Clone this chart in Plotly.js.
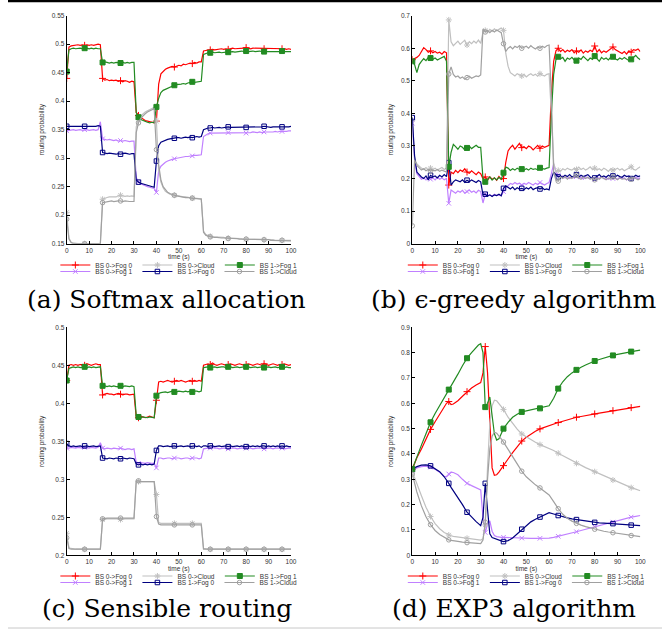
<!DOCTYPE html>
<html><head><meta charset="utf-8">
<script src="https://cdn.plot.ly/plotly-3.0.1.min.js"></script>
<style>html,body{margin:0;padding:0;background:#fff}#g{width:662px;height:638px}</style>
</head><body><div id="g"></div><script>
// sample times (s)
const TIME = [0,1,2,3,4,5,6,7,8,9,10,11,12,13,14,15,16,17,18,19,20,21,22,23,24,25,26,27,28,29,30,31,32,33,34,35,36,37,38,39,40,41,42,43,44,45,46,47,48,49,50,51,52,53,54,55,56,57,58,59,60,61,62,63,64,65,66,67,68,69,70,71,72,73,74,75,76,77,78,79,80,81,82,83,84,85,86,87,88,89,90,91,92,93,94,95,96,97,98,99,100];
const TIME_D = [0,2,4,6,8,10,12,14,15,16,17,18,20,22,24,26,28,29,30,31,32,33,34,35,36,37,38,39,40,42,44,46,48,50,52,54,56,58,60,62,64,66,68,70,72,74,76,78,80,82,84,86,88,90,92,94,96,98,100];
const MARK_T = [0,8,16,24,32,40,48,56,64,72,80,88,96];
const NAMES = ['BS 0->Fog 0','BS 0->Fog 1','BS 0->Cloud','BS 1->Fog 0','BS 1->Fog 1','BS 1->Cloud'];

// (a) Softmax allocation
const A_F00 = [0.440,0.495,0.497,0.498,0.498,0.499,0.498,0.499,0.498,0.499,
 0.498,0.499,0.498,0.499,0.500,0.499,0.440,0.437,0.438,0.436,
 0.437,0.436,0.437,0.435,0.436,0.434,0.436,0.435,0.433,0.435,
 0.434,0.380,0.375,0.372,0.369,0.366,0.365,0.364,0.363,0.362,
 0.365,0.430,0.448,0.452,0.456,0.458,0.459,0.461,0.460,0.462,
 0.463,0.462,0.465,0.464,0.466,0.467,0.466,0.468,0.467,0.469,
 0.469,0.488,0.489,0.490,0.490,0.491,0.490,0.491,0.491,0.492,
 0.491,0.492,0.491,0.492,0.493,0.492,0.492,0.493,0.492,0.493,
 0.494,0.493,0.492,0.493,0.493,0.492,0.493,0.493,0.492,0.493,
 0.493,0.492,0.493,0.492,0.492,0.493,0.492,0.492,0.491,0.492,
 0.491];
const A_F01 = [0.348,0.349,0.349,0.350,0.349,0.350,0.350,0.349,0.350,0.350,
 0.349,0.350,0.350,0.349,0.350,0.364,0.334,0.333,0.332,0.333,
 0.332,0.331,0.332,0.330,0.331,0.330,0.331,0.330,0.329,0.330,
 0.330,0.266,0.258,0.255,0.253,0.252,0.250,0.249,0.248,0.247,
 0.240,0.278,0.286,0.290,0.293,0.295,0.297,0.298,0.299,0.300,
 0.301,0.302,0.302,0.303,0.303,0.304,0.304,0.305,0.305,0.306,
 0.306,0.338,0.341,0.343,0.344,0.344,0.345,0.344,0.345,0.344,
 0.345,0.344,0.345,0.344,0.345,0.344,0.345,0.345,0.344,0.345,
 0.344,0.345,0.345,0.346,0.345,0.345,0.346,0.345,0.346,0.346,
 0.346,0.345,0.346,0.347,0.346,0.347,0.347,0.346,0.347,0.348,
 0.348];
const A_CL0 = [0.205,0.160,0.152,0.151,0.150,0.150,0.150,0.150,0.150,0.150,
 0.150,0.150,0.150,0.150,0.150,0.150,0.228,0.230,0.231,0.232,
 0.232,0.233,0.232,0.234,0.235,0.234,0.233,0.234,0.233,0.234,
 0.233,0.355,0.368,0.374,0.378,0.381,0.383,0.385,0.387,0.389,
 0.365,0.280,0.258,0.248,0.242,0.239,0.237,0.236,0.235,0.234,
 0.233,0.233,0.232,0.232,0.231,0.231,0.230,0.230,0.229,0.229,
 0.229,0.172,0.166,0.164,0.163,0.162,0.162,0.161,0.161,0.161,
 0.161,0.160,0.160,0.160,0.160,0.159,0.159,0.159,0.159,0.158,
 0.158,0.158,0.158,0.158,0.158,0.157,0.157,0.157,0.157,0.157,
 0.157,0.157,0.157,0.156,0.156,0.156,0.156,0.156,0.156,0.156,
 0.156];
const A_F10 = [0.356,0.356,0.355,0.356,0.355,0.356,0.355,0.356,0.356,0.355,
 0.356,0.355,0.356,0.356,0.357,0.356,0.310,0.309,0.308,0.309,
 0.308,0.308,0.307,0.308,0.307,0.308,0.309,0.308,0.307,0.308,
 0.308,0.262,0.258,0.256,0.255,0.254,0.252,0.251,0.250,0.249,
 0.295,0.322,0.328,0.330,0.332,0.333,0.334,0.335,0.335,0.336,
 0.336,0.335,0.336,0.337,0.336,0.337,0.336,0.337,0.338,0.337,
 0.338,0.350,0.352,0.353,0.353,0.354,0.353,0.354,0.354,0.353,
 0.354,0.354,0.355,0.354,0.354,0.355,0.354,0.355,0.354,0.355,
 0.354,0.355,0.354,0.355,0.355,0.354,0.355,0.355,0.356,0.355,
 0.355,0.354,0.355,0.355,0.354,0.355,0.355,0.354,0.355,0.355,
 0.356];
const A_F11 = [0.452,0.490,0.492,0.493,0.492,0.493,0.493,0.492,0.493,0.493,
 0.492,0.493,0.492,0.493,0.492,0.492,0.468,0.469,0.468,0.467,
 0.468,0.467,0.468,0.467,0.467,0.468,0.467,0.468,0.467,0.468,
 0.468,0.380,0.372,0.368,0.366,0.364,0.363,0.362,0.363,0.362,
 0.390,0.405,0.415,0.419,0.421,0.423,0.425,0.426,0.428,0.429,
 0.429,0.430,0.431,0.430,0.432,0.433,0.434,0.433,0.434,0.435,
 0.435,0.482,0.484,0.485,0.485,0.486,0.485,0.486,0.486,0.485,
 0.486,0.486,0.486,0.487,0.487,0.486,0.487,0.487,0.488,0.487,
 0.488,0.487,0.488,0.488,0.487,0.488,0.488,0.487,0.487,0.488,
 0.487,0.488,0.488,0.487,0.488,0.488,0.488,0.487,0.488,0.488,
 0.487];
const A_CL1 = [0.193,0.158,0.152,0.150,0.150,0.150,0.150,0.150,0.150,0.150,
 0.150,0.150,0.150,0.150,0.150,0.150,0.222,0.223,0.224,0.224,
 0.225,0.224,0.225,0.225,0.225,0.224,0.225,0.224,0.224,0.224,
 0.224,0.345,0.362,0.370,0.375,0.378,0.381,0.383,0.385,0.387,
 0.315,0.290,0.262,0.250,0.244,0.240,0.238,0.236,0.235,0.234,
 0.233,0.232,0.232,0.231,0.231,0.230,0.230,0.229,0.229,0.228,
 0.228,0.170,0.165,0.163,0.162,0.162,0.161,0.161,0.160,0.160,
 0.160,0.160,0.159,0.159,0.159,0.159,0.159,0.158,0.158,0.158,
 0.158,0.158,0.158,0.158,0.157,0.157,0.157,0.157,0.157,0.157,
 0.157,0.156,0.156,0.156,0.156,0.156,0.156,0.156,0.155,0.155,
 0.155];

// (b) epsilon-greedy algorithm
const B_F00 = [0.565,0.568,0.572,0.578,0.590,0.602,0.596,0.588,0.592,0.586,
 0.590,0.585,0.588,0.582,0.590,0.586,0.180,0.220,0.215,0.225,
 0.218,0.226,0.222,0.230,0.220,0.216,0.224,0.218,0.212,0.220,
 0.215,0.200,0.205,0.195,0.205,0.198,0.202,0.195,0.206,0.198,
 0.200,0.250,0.285,0.295,0.302,0.290,0.300,0.308,0.295,0.298,
 0.292,0.300,0.296,0.288,0.295,0.302,0.293,0.300,0.296,0.298,
 0.302,0.460,0.560,0.592,0.600,0.590,0.596,0.588,0.594,0.590,
 0.596,0.586,0.592,0.588,0.595,0.585,0.592,0.588,0.594,0.590,
 0.607,0.588,0.596,0.586,0.592,0.588,0.594,0.600,0.604,0.596,
 0.592,0.588,0.584,0.590,0.582,0.592,0.588,0.596,0.594,0.598,
 0.590];
const B_F01 = [0.370,0.260,0.215,0.205,0.198,0.202,0.196,0.204,0.198,0.202,
 0.196,0.204,0.198,0.202,0.196,0.200,0.124,0.165,0.160,0.155,
 0.162,0.158,0.164,0.155,0.160,0.165,0.158,0.162,0.156,0.164,
 0.160,0.125,0.152,0.148,0.150,0.146,0.152,0.148,0.150,0.147,
 0.160,0.172,0.178,0.185,0.182,0.188,0.183,0.186,0.180,0.185,
 0.182,0.188,0.184,0.180,0.186,0.182,0.188,0.184,0.180,0.185,
 0.188,0.215,0.245,0.222,0.210,0.205,0.208,0.202,0.206,0.200,
 0.204,0.202,0.206,0.200,0.204,0.198,0.206,0.202,0.200,0.204,
 0.198,0.204,0.200,0.206,0.200,0.202,0.198,0.204,0.200,0.202,
 0.198,0.204,0.200,0.202,0.196,0.202,0.200,0.198,0.204,0.200,
 0.202];
const B_CL0 = [0.380,0.262,0.245,0.238,0.232,0.228,0.234,0.226,0.232,0.228,
 0.232,0.226,0.230,0.234,0.228,0.232,0.687,0.620,0.608,0.615,
 0.622,0.612,0.618,0.625,0.610,0.620,0.614,0.622,0.616,0.625,
 0.615,0.650,0.655,0.648,0.658,0.652,0.660,0.654,0.658,0.662,
 0.655,0.584,0.545,0.525,0.520,0.515,0.522,0.518,0.515,0.520,
 0.512,0.518,0.522,0.516,0.520,0.514,0.522,0.518,0.515,0.520,
 0.522,0.400,0.250,0.220,0.225,0.222,0.230,0.226,0.232,0.228,
 0.226,0.232,0.228,0.235,0.228,0.232,0.226,0.230,0.236,0.228,
 0.232,0.226,0.230,0.225,0.232,0.228,0.222,0.230,0.226,0.228,
 0.232,0.226,0.230,0.224,0.228,0.232,0.236,0.228,0.226,0.232,
 0.236];
const B_F10 = [0.387,0.270,0.220,0.212,0.205,0.200,0.208,0.196,0.210,0.205,
 0.208,0.202,0.210,0.205,0.212,0.206,0.249,0.180,0.190,0.196,
 0.192,0.190,0.196,0.188,0.195,0.190,0.196,0.192,0.188,0.194,
 0.190,0.150,0.152,0.146,0.150,0.145,0.150,0.148,0.152,0.147,
 0.170,0.178,0.172,0.168,0.174,0.166,0.172,0.168,0.170,0.166,
 0.172,0.168,0.174,0.166,0.170,0.172,0.168,0.172,0.166,0.168,
 0.165,0.200,0.220,0.212,0.205,0.208,0.204,0.210,0.206,0.212,
 0.205,0.208,0.212,0.204,0.210,0.206,0.208,0.212,0.205,0.200,
 0.202,0.208,0.212,0.205,0.208,0.204,0.210,0.206,0.208,0.205,
 0.210,0.206,0.204,0.210,0.206,0.208,0.200,0.205,0.210,0.206,
 0.208];
const B_F11 = [0.560,0.550,0.525,0.550,0.560,0.568,0.562,0.572,0.570,0.566,
 0.570,0.564,0.568,0.572,0.575,0.560,0.236,0.280,0.305,0.298,
 0.290,0.300,0.296,0.288,0.294,0.300,0.292,0.298,0.302,0.296,
 0.296,0.200,0.190,0.198,0.205,0.195,0.202,0.196,0.204,0.198,
 0.218,0.235,0.232,0.225,0.230,0.226,0.232,0.228,0.229,0.226,
 0.230,0.226,0.232,0.228,0.230,0.227,0.233,0.231,0.229,0.232,
 0.234,0.400,0.520,0.565,0.574,0.568,0.572,0.560,0.570,0.566,
 0.572,0.564,0.562,0.570,0.566,0.575,0.568,0.562,0.570,0.566,
 0.576,0.568,0.560,0.572,0.566,0.570,0.564,0.572,0.574,0.568,
 0.564,0.570,0.566,0.572,0.568,0.562,0.566,0.572,0.578,0.570,
 0.565];
const B_CL1 = [0.055,0.257,0.240,0.232,0.226,0.230,0.224,0.228,0.222,0.226,
 0.224,0.228,0.222,0.226,0.224,0.220,0.521,0.543,0.520,0.512,
 0.515,0.508,0.512,0.505,0.510,0.514,0.508,0.512,0.515,0.513,
 0.518,0.659,0.650,0.655,0.648,0.655,0.650,0.656,0.652,0.648,
 0.614,0.590,0.600,0.605,0.598,0.606,0.602,0.608,0.600,0.604,
 0.606,0.600,0.608,0.602,0.598,0.604,0.600,0.606,0.602,0.608,
 0.610,0.450,0.220,0.195,0.192,0.205,0.200,0.206,0.198,0.204,
 0.200,0.206,0.210,0.202,0.198,0.205,0.200,0.204,0.198,0.202,
 0.196,0.202,0.198,0.204,0.200,0.196,0.202,0.198,0.205,0.200,
 0.196,0.202,0.198,0.200,0.196,0.202,0.198,0.204,0.200,0.196,
 0.200];

// (c) Sensible routing
const C_F00 = [0.430,0.450,0.451,0.450,0.451,0.450,0.451,0.451,0.450,0.452,
 0.451,0.450,0.451,0.452,0.451,0.451,0.411,0.412,0.413,0.412,
 0.412,0.411,0.412,0.413,0.412,0.411,0.412,0.412,0.411,0.412,
 0.412,0.382,0.381,0.383,0.382,0.381,0.382,0.383,0.382,0.381,
 0.404,0.428,0.429,0.428,0.429,0.430,0.429,0.428,0.429,0.430,
 0.429,0.430,0.429,0.428,0.429,0.430,0.429,0.430,0.429,0.430,
 0.429,0.450,0.451,0.452,0.451,0.453,0.451,0.450,0.451,0.452,
 0.451,0.450,0.451,0.452,0.451,0.450,0.451,0.452,0.451,0.450,
 0.451,0.452,0.451,0.450,0.451,0.452,0.451,0.450,0.452,0.451,
 0.450,0.451,0.452,0.451,0.450,0.451,0.451,0.452,0.451,0.450,
 0.451];
const C_F01 = [0.341,0.341,0.342,0.341,0.341,0.342,0.341,0.341,0.342,0.341,
 0.341,0.342,0.341,0.341,0.342,0.348,0.341,0.340,0.341,0.340,
 0.340,0.341,0.340,0.340,0.341,0.340,0.339,0.340,0.340,0.339,
 0.340,0.322,0.321,0.322,0.321,0.321,0.322,0.321,0.321,0.321,
 0.315,0.328,0.328,0.327,0.328,0.328,0.328,0.327,0.328,0.328,
 0.328,0.327,0.328,0.328,0.328,0.327,0.328,0.328,0.328,0.327,
 0.328,0.340,0.341,0.341,0.341,0.342,0.341,0.341,0.340,0.341,
 0.341,0.341,0.340,0.341,0.341,0.341,0.340,0.341,0.341,0.341,
 0.341,0.341,0.341,0.340,0.341,0.341,0.341,0.341,0.340,0.341,
 0.341,0.341,0.340,0.341,0.341,0.341,0.341,0.340,0.341,0.341,
 0.341];
const C_CL0 = [0.229,0.210,0.209,0.208,0.208,0.208,0.208,0.208,0.208,0.208,
 0.208,0.208,0.208,0.208,0.208,0.208,0.247,0.248,0.248,0.248,
 0.248,0.248,0.248,0.248,0.247,0.248,0.248,0.248,0.248,0.248,
 0.248,0.297,0.297,0.297,0.297,0.297,0.297,0.297,0.297,0.297,
 0.280,0.243,0.242,0.242,0.242,0.242,0.242,0.242,0.242,0.242,
 0.242,0.242,0.242,0.242,0.242,0.242,0.242,0.242,0.242,0.242,
 0.242,0.209,0.208,0.208,0.208,0.208,0.208,0.208,0.208,0.208,
 0.208,0.208,0.208,0.208,0.208,0.208,0.208,0.208,0.208,0.208,
 0.208,0.208,0.208,0.208,0.208,0.208,0.208,0.208,0.208,0.208,
 0.208,0.208,0.208,0.208,0.208,0.208,0.208,0.208,0.208,0.208,
 0.208];
const C_F10 = [0.347,0.344,0.343,0.344,0.343,0.344,0.344,0.343,0.344,0.344,
 0.343,0.344,0.344,0.343,0.344,0.344,0.328,0.327,0.327,0.328,
 0.327,0.327,0.328,0.327,0.327,0.328,0.327,0.327,0.328,0.327,
 0.327,0.320,0.319,0.320,0.319,0.320,0.319,0.320,0.319,0.320,
 0.338,0.344,0.344,0.343,0.344,0.344,0.343,0.344,0.344,0.343,
 0.344,0.344,0.343,0.344,0.344,0.343,0.344,0.344,0.343,0.344,
 0.342,0.344,0.344,0.343,0.344,0.344,0.343,0.344,0.344,0.343,
 0.344,0.344,0.343,0.344,0.343,0.344,0.344,0.343,0.344,0.343,
 0.343,0.344,0.343,0.344,0.343,0.344,0.343,0.344,0.344,0.343,
 0.344,0.343,0.344,0.343,0.344,0.343,0.344,0.343,0.344,0.343,
 0.343];
const C_F11 = [0.430,0.446,0.447,0.448,0.447,0.448,0.447,0.448,0.448,0.447,
 0.448,0.447,0.448,0.447,0.448,0.448,0.423,0.423,0.422,0.423,
 0.422,0.423,0.422,0.422,0.423,0.422,0.423,0.422,0.422,0.423,
 0.422,0.384,0.382,0.381,0.382,0.381,0.381,0.382,0.381,0.381,
 0.410,0.413,0.414,0.415,0.415,0.414,0.415,0.416,0.415,0.415,
 0.416,0.415,0.415,0.416,0.415,0.416,0.415,0.416,0.416,0.415,
 0.416,0.447,0.448,0.448,0.447,0.448,0.448,0.447,0.448,0.448,
 0.448,0.447,0.448,0.448,0.447,0.448,0.448,0.447,0.448,0.448,
 0.448,0.448,0.447,0.448,0.448,0.447,0.448,0.448,0.447,0.448,
 0.448,0.447,0.448,0.448,0.447,0.448,0.448,0.447,0.448,0.447,
 0.447];
const C_CL1 = [0.223,0.209,0.208,0.208,0.208,0.208,0.208,0.208,0.208,0.208,
 0.208,0.208,0.208,0.208,0.208,0.208,0.248,0.249,0.249,0.249,
 0.249,0.249,0.249,0.249,0.249,0.249,0.249,0.249,0.249,0.249,
 0.249,0.298,0.298,0.297,0.297,0.297,0.297,0.297,0.297,0.297,
 0.251,0.241,0.240,0.240,0.240,0.240,0.240,0.240,0.240,0.240,
 0.240,0.240,0.240,0.240,0.240,0.240,0.240,0.240,0.240,0.240,
 0.240,0.208,0.208,0.208,0.208,0.208,0.208,0.208,0.208,0.208,
 0.208,0.208,0.208,0.208,0.208,0.208,0.208,0.208,0.208,0.208,
 0.208,0.208,0.208,0.208,0.208,0.208,0.208,0.208,0.208,0.208,
 0.208,0.208,0.208,0.208,0.208,0.208,0.208,0.208,0.208,0.208,
 0.208];

// (d) EXP3 algorithm (sampled at TIME_D)
const D_F00 = [0.34,0.385,0.42,0.46,0.497,0.527,0.555,0.585,0.60,0.607,0.595,0.597,0.61,0.628,0.646,0.66,0.672,0.677,0.682,0.72,0.824,0.72,0.50,0.345,0.316,0.318,0.328,0.34,0.354,0.38,0.405,0.43,0.451,0.466,0.479,0.49,0.499,0.506,0.512,0.518,0.524,0.529,0.535,0.54,0.545,0.548,0.552,0.555,0.558,0.561,0.564,0.567,0.571,0.574,0.577,0.58,0.583,0.585,0.588];
const D_F01 = [0.335,0.345,0.35,0.352,0.348,0.34,0.328,0.312,0.31,0.321,0.328,0.327,0.318,0.30,0.284,0.275,0.267,0.263,0.258,0.15,0.09,0.125,0.136,0.095,0.078,0.074,0.072,0.071,0.071,0.07,0.069,0.069,0.068,0.068,0.067,0.067,0.067,0.067,0.068,0.071,0.075,0.079,0.084,0.089,0.093,0.098,0.103,0.108,0.113,0.117,0.122,0.126,0.131,0.136,0.141,0.146,0.151,0.154,0.157];
const D_CL0 = [0.33,0.28,0.235,0.19,0.153,0.125,0.105,0.09,0.085,0.08,0.077,0.075,0.072,0.07,0.067,0.064,0.062,0.061,0.06,0.065,0.12,0.35,0.52,0.59,0.612,0.61,0.60,0.59,0.576,0.545,0.52,0.498,0.479,0.467,0.456,0.446,0.437,0.43,0.424,0.414,0.403,0.393,0.383,0.373,0.363,0.354,0.346,0.338,0.33,0.322,0.314,0.306,0.297,0.29,0.282,0.274,0.267,0.261,0.255];
const D_F10 = [0.34,0.35,0.356,0.357,0.353,0.343,0.33,0.31,0.298,0.284,0.268,0.255,0.23,0.20,0.17,0.15,0.133,0.125,0.117,0.15,0.284,0.18,0.085,0.07,0.066,0.063,0.06,0.057,0.054,0.058,0.068,0.084,0.103,0.118,0.132,0.142,0.151,0.16,0.168,0.163,0.157,0.152,0.148,0.144,0.141,0.138,0.135,0.132,0.13,0.128,0.127,0.126,0.125,0.123,0.121,0.12,0.119,0.118,0.117];
const D_F11 = [0.34,0.39,0.435,0.48,0.525,0.56,0.59,0.62,0.635,0.654,0.67,0.685,0.715,0.748,0.778,0.80,0.82,0.83,0.835,0.80,0.585,0.60,0.625,0.56,0.48,0.455,0.46,0.48,0.50,0.525,0.545,0.557,0.566,0.57,0.574,0.577,0.58,0.584,0.59,0.62,0.658,0.685,0.705,0.72,0.732,0.742,0.751,0.76,0.767,0.773,0.779,0.784,0.789,0.793,0.797,0.80,0.804,0.807,0.81];
const D_CL1 = [0.32,0.25,0.195,0.152,0.121,0.098,0.082,0.07,0.066,0.061,0.059,0.057,0.055,0.052,0.05,0.049,0.047,0.046,0.046,0.06,0.131,0.30,0.42,0.47,0.486,0.482,0.472,0.46,0.447,0.418,0.39,0.36,0.332,0.31,0.292,0.278,0.266,0.253,0.238,0.212,0.184,0.162,0.146,0.135,0.126,0.119,0.113,0.108,0.103,0.099,0.095,0.092,0.089,0.086,0.083,0.08,0.078,0.076,0.074];

// styles (gnuplot-like)
const COLORS = ['#ff0000','#c080ff','#c0c0c0','#000080','#228b22','#a0a0a0'];
const SYMBOLS = ['cross-thin-open','x-thin-open','asterisk-open','square-open','square','circle-open'];
const SIZES = [5,4.5,5,4.5,5,4.5];
const FONT = 'Liberation Sans';
const SERIF = 'DejaVu Serif';

const PANELS = [
  {t:TIME,   ys:[A_F00,A_F01,A_CL0,A_F10,A_F11,A_CL1], yr:[0.15,0.55], dt:0.05,
   dx:[66.7,291], dy:[15.7,243.7], leg:[265,271.5], cap:'(a) Softmax allocation', capxy:[166,299]},
  {t:TIME,   ys:[B_F00,B_F01,B_CL0,B_F10,B_F11,B_CL1], yr:[0,0.7], dt:0.1,
   dx:[412.3,640.3], dy:[15.7,243.7], leg:[265,271.5], cap:'(b) \u03f5-greedy algorithm', capxy:[514,299]},
  {t:TIME,   ys:[C_F00,C_F01,C_CL0,C_F10,C_F11,C_CL1], yr:[0.2,0.5], dt:0.05,
   dx:[66.7,291], dy:[327.3,555.3], leg:[576,582.5], cap:'(c) Sensible routing', capxy:[167,608]},
  {t:TIME_D, ys:[D_F00,D_F01,D_CL0,D_F10,D_F11,D_CL1], yr:[0,0.9], dt:0.1,
   dx:[412.3,640.3], dy:[327.3,555.3], leg:[576,582.5], cap:'(d) EXP3 algorithm', capxy:[514,608]},
];
const W = 662, H = 638;
const px = v => v / W, py = v => 1 - v / H;

const traces = [];
const layout = {
  width: W, height: H, margin:{l:0,r:0,t:0,b:0},
  paper_bgcolor:'#fff', plot_bgcolor:'#fff', showlegend:true,
  font:{family:FONT, size:6.5, color:'#333'},
  annotations:[], shapes:[
    {type:'line', xref:'paper', yref:'paper', x0:px(8), x1:1, y0:py(1), y1:py(1), line:{color:'#000', width:2.5}},
    {type:'line', xref:'paper', yref:'paper', x0:px(8), x1:1, y0:py(628), y1:py(628), line:{color:'#c8c8c8', width:1}},
  ]
};

PANELS.forEach((p, i) => {
  const suf = i === 0 ? '' : String(i + 1);
  const xa = 'x' + suf, ya = 'y' + suf;
  layout['xaxis' + suf] = {
    domain:[px(p.dx[0]), px(p.dx[1])], anchor:ya, range:[0,100], tick0:0, dtick:10,
    ticks:'inside', ticklen:3, tickcolor:'#000', showline:true, linecolor:'#000', linewidth:1,
    showgrid:false, zeroline:false, tickfont:{family:FONT, size:6.5, color:'#333'},
    title:{text:'time (s)', font:{family:FONT, size:6.5, color:'#333'}, standoff:0}
  };
  layout['yaxis' + suf] = {
    domain:[py(p.dy[1]), py(p.dy[0])], anchor:xa, range:p.yr, tick0:p.yr[0], dtick:p.dt,
    ticks:'inside', ticklen:3, tickcolor:'#000', showline:true, linecolor:'#000', linewidth:1,
    showgrid:false, zeroline:false, tickfont:{family:FONT, size:6.5, color:'#333'},
    title:{text:'routing probability', font:{family:FONT, size:6.5, color:'#333'}, standoff:6}
  };
  p.ys.forEach((y, j) => {
    traces.push({x:p.t, y:y, mode:'lines', xaxis:xa, yaxis:ya, showlegend:false, hoverinfo:'skip',
      line:{color:COLORS[j], width:1.2}});
    const mx = [], my = [];
    p.t.forEach((t, k) => { if (MARK_T.includes(t)) { mx.push(t); my.push(y[k]); } });
    traces.push({x:mx, y:my, mode:'markers', xaxis:xa, yaxis:ya, showlegend:false, hoverinfo:'skip',
      marker:{symbol:SYMBOLS[j], size:SIZES[j], color:COLORS[j], line:{color:COLORS[j], width:1}}});
  });
  // legends: two rows of three (gnuplot column order)
  [[0,2,4],[1,3,5]].forEach((row, r) => {
    const lid = 'legend' + (i * 2 + r === 0 ? '' : String(i * 2 + r + 1));
    layout[lid] = {orientation:'h', x:px((p.dx[0] + p.dx[1]) / 2), xanchor:'center',
      y:py(p.leg[r]), yanchor:'middle', font:{family:FONT, size:6.5, color:'#333'}, bgcolor:'rgba(0,0,0,0)',
      itemwidth:30, tracegroupgap:0, traceorder:'normal'};
    row.forEach(j => {
      traces.push({x:[null], y:[null], mode:'lines+markers', xaxis:xa, yaxis:ya, name:NAMES[j],
        legend:lid, showlegend:true, hoverinfo:'skip',
        line:{color:COLORS[j], width:1.2},
        marker:{symbol:SYMBOLS[j], size:SIZES[j], color:COLORS[j], line:{color:COLORS[j], width:1}}});
    });
  });
  layout.annotations.push({text:p.cap, xref:'paper', yref:'paper', x:px(p.capxy[0]), y:py(p.capxy[1]),
    xanchor:'center', yanchor:'middle', showarrow:false,
    font:{family:SERIF, size:25, color:'#000'}});
});

Plotly.newPlot('g', traces, layout, {staticPlot:true, displayModeBar:false});
</script></body></html>
